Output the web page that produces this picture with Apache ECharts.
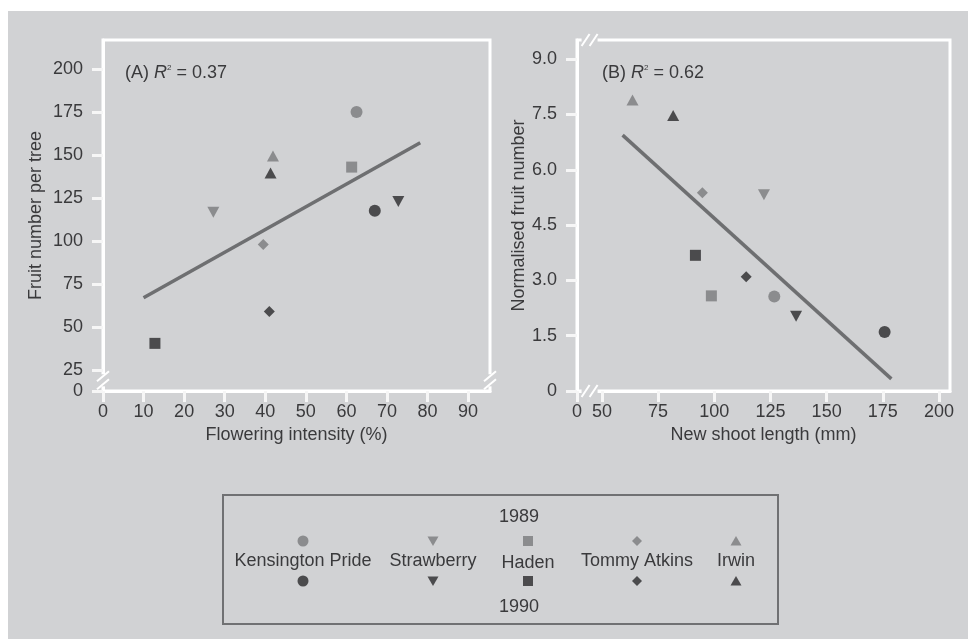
<!DOCTYPE html>
<html><head><meta charset="utf-8">
<script src="https://cdn.jsdelivr.net/npm/echarts@6/dist/echarts.min.js"></script>
<style>
html,body{margin:0;padding:0;background:#fff;}
#bg{position:absolute;left:8px;top:11px;width:960px;height:628px;background:#d1d2d4;}
#chart{position:absolute;left:0;top:0;width:968px;height:639px;}
</style></head><body>
<div id="bg"></div><div id="chart"></div>
<script>
// ---------- data ----------
const cultivars = ['Kensington Pride', 'Strawberry', 'Haden', 'Tommy Atkins', 'Irwin'];
const years = ['1989', '1990'];
const flowering1989 = [62.5, 27.2, 61.3, 39.5, 41.9];
const fruitPerTree1989 = [175, 116.7, 143, 98, 149.5];
const flowering1990 = [67, 72.8, 12.8, 41, 41.3];
const fruitPerTree1990 = [117.6, 123, 40.5, 59, 139.5];
const shoot1989 = [126.7, 122.1, 98.7, 94.7, 63.6];
const normFruit1989 = [2.56, 5.32, 2.58, 5.38, 7.89];
const shoot1990 = [175.8, 136.4, 91.6, 114.2, 81.7];
const normFruit1990 = [1.6, 2.03, 3.68, 3.1, 7.47];
const fitAx = [10, 78.2];
const fitAy = [67, 157.2];
const fitBx = [59.2, 178.8];
const fitBy = [6.94, 0.33];
const xTicksA = [0, 10, 20, 30, 40, 50, 60, 70, 80, 90];
const yTicksA = [25, 50, 75, 100, 125, 150, 175, 200];
const xTicksB = [50, 75, 100, 125, 150, 175, 200];
const yTicksB = [0, 1.5, 3, 4.5, 6, 7.5, 9];
const r2A = '0.37';
const r2B = '0.62';

const FONT = '"Liberation Sans", Arial, Helvetica, sans-serif';
const TXT = '#3a3a3c';
const BG = '#d1d2d4';
const LIGHT = '#8b8c8e';
const DARK = '#4b4b4d';
const LINE = '#6e6f71';
const AXISCOL = '#ffffff';
const TICKCOL = '#f6f6f6';
const yMinA = 12.8, yMaxA = 216.9, xMaxA = 95.4;
const xMinB = 38.9, xMaxB = 204.9, yMaxB = 9.52;
const symbols = ['circle', 'triangle', 'rect', 'diamond', 'triangle'];
const rotations = [0, 180, 0, 0, 0];
const sizes = [12, [12, 11], 11, [11, 11], [12, 11]];
const near = (a, b) => Math.abs(a - b) < 1e-6;

const xValsA = xTicksA;
const yValsA = [yMinA].concat(yTicksA);
const xValsB = [xMinB].concat(xTicksB);
const yValsB = yTicksB;

function makeAxis(gridIndex, min, max, name, nameGap, tickVals, fmt, margin) {
  return {
    type: 'value', gridIndex: gridIndex, min: min, max: max,
    axisLine: {show: true, onZero: false, lineStyle: {color: AXISCOL, width: 3}},
    axisTick: {show: true, length: 11, customValues: tickVals, lineStyle: {color: TICKCOL, width: 3}},
    axisLabel: {customValues: tickVals, formatter: fmt, margin: margin, fontSize: 18, fontFamily: FONT, color: TXT},
    splitLine: {show: false},
    name: name, nameLocation: 'middle', nameGap: nameGap,
    nameTextStyle: {fontSize: 18, fontFamily: FONT, color: TXT}
  };
}

const series = [];
series.push({type: 'line', xAxisIndex: 0, yAxisIndex: 0, data: fitAx.map((x, i) => [x, fitAy[i]]),
  showSymbol: false, lineStyle: {color: LINE, width: 3.5}, z: 1, silent: true});
series.push({type: 'line', xAxisIndex: 1, yAxisIndex: 1, data: fitBx.map((x, i) => [x, fitBy[i]]),
  showSymbol: false, lineStyle: {color: LINE, width: 3.5}, z: 1, silent: true});
const sets = [
  {g: 0, xs: flowering1989, ys: fruitPerTree1989, c: LIGHT},
  {g: 0, xs: flowering1990, ys: fruitPerTree1990, c: DARK},
  {g: 1, xs: shoot1989, ys: normFruit1989, c: LIGHT},
  {g: 1, xs: shoot1990, ys: normFruit1990, c: DARK}
];
sets.forEach(s => {
  cultivars.forEach((name, i) => {
    series.push({
      type: 'scatter', name: name, xAxisIndex: s.g, yAxisIndex: s.g,
      data: [[s.xs[i], s.ys[i]]],
      symbol: symbols[i], symbolRotate: rotations[i], symbolSize: sizes[i],
      itemStyle: {color: s.c, opacity: 1}, z: 3
    });
  });
});

function r2Title(label, val, left) {
  return {
    left: left, top: 59,
    text: '{n|(' + label + ') }{i|R}{s|2}{n| = ' + val + '}',
    textStyle: {fontWeight: 'normal', rich: {
      n: {fontSize: 18, fontFamily: FONT, color: TXT, fontWeight: 'normal', lineHeight: 18},
      i: {fontSize: 18, fontFamily: FONT, color: TXT, fontWeight: 'normal', fontStyle: 'italic', lineHeight: 18},
      s: {fontSize: 8, fontFamily: FONT, color: TXT, fontWeight: 'normal', verticalAlign: 'top', lineHeight: 9}
    }}
  };
}

const chart = echarts.init(document.getElementById('chart'));
chart.setOption({
  animation: false,
  title: [r2Title('A', r2A, 120), r2Title('B', r2B, 597)],
  grid: [
    {left: 103, top: 40, width: 387, height: 351, show: true, borderColor: AXISCOL, borderWidth: 3},
    {left: 577, top: 40, width: 373, height: 351, show: true, borderColor: AXISCOL, borderWidth: 3}
  ],
  xAxis: [
    makeAxis(0, 0, xMaxA, 'Flowering intensity (%)', 32, xValsA, v => String(v), 12),
    makeAxis(1, xMinB, xMaxB, 'New shoot length (mm)', 32, xValsB, v => near(v, xMinB) ? '0' : String(v), 12)
  ],
  yAxis: [
    makeAxis(0, yMinA, yMaxA, 'Fruit number per tree', 58, yValsA, v => near(v, yMinA) ? '0' : String(v), 20),
    makeAxis(1, 0, yMaxB, 'Normalised fruit number', 49, yValsB, v => near(v, 0) ? '0' : v.toFixed(1), 20)
  ],
  series: series
});

const gfx = [];
// ---------- axis break marks ----------
function breakMark(p, vertical) {
  const x = p[0], y = p[1];
  const els = [];
  if (vertical) {
    els.push({type: 'rect', shape: {x: x - 4, y: y - 6, width: 8, height: 12}, style: {fill: BG}});
    [-4, 4].forEach(d => els.push({type: 'line', shape: {x1: x - 6, y1: y + d + 5, x2: x + 6, y2: y + d - 5},
      style: {stroke: AXISCOL, lineWidth: 2}}));
  } else {
    els.push({type: 'rect', shape: {x: x - 8, y: y - 4, width: 16, height: 8}, style: {fill: BG}});
    [-4, 4].forEach(d => els.push({type: 'line', shape: {x1: x + d - 4, y1: y + 6, x2: x + d + 4, y2: y - 6},
      style: {stroke: AXISCOL, lineWidth: 2}}));
  }
  return els;
}
gfx.push(...breakMark(chart.convertToPixel({xAxisIndex: 0, yAxisIndex: 0}, [0, 19]), true));
gfx.push(...breakMark(chart.convertToPixel({xAxisIndex: 0, yAxisIndex: 0}, [xMaxA, 19]), true));
gfx.push(...breakMark(chart.convertToPixel({xAxisIndex: 1, yAxisIndex: 1}, [44.5, 0]), false));
gfx.push(...breakMark(chart.convertToPixel({xAxisIndex: 1, yAxisIndex: 1}, [44.5, yMaxB]), false));

// ---------- legend ----------
const legendCols = [303, 433, 528, 637, 736];
const legRowTop = 541, legRowText = 561, legRowBot = 581;
function legendMarker(i, cx, cy, color) {
  const st = {fill: color};
  if (i === 0) return {type: 'circle', shape: {cx: cx, cy: cy, r: 5.5}, style: st};
  if (i === 2) return {type: 'rect', shape: {x: cx - 5, y: cy - 5, width: 10, height: 10}, style: st};
  if (i === 3) return {type: 'polygon', shape: {points: [[cx, cy - 5], [cx + 5, cy], [cx, cy + 5], [cx - 5, cy]]}, style: st};
  if (i === 1) return {type: 'polygon', shape: {points: [[cx - 5.5, cy - 4.5], [cx + 5.5, cy - 4.5], [cx, cy + 5]]}, style: st};
  return {type: 'polygon', shape: {points: [[cx, cy - 5], [cx + 5.5, cy + 4.5], [cx - 5.5, cy + 4.5]]}, style: st};
}
function txt(t, x, y) {
  return {type: 'text', style: {text: t, x: x, y: y, font: '18px ' + FONT, fill: TXT,
    align: 'center', verticalAlign: 'middle', textAlign: 'center', textVerticalAlign: 'middle'}};
}
gfx.push({type: 'rect', shape: {x: 223, y: 495, width: 555, height: 129}, style: {fill: 'none', stroke: '#707173', lineWidth: 2}});
gfx.push(txt(years[0], 519, 517));
gfx.push(txt(years[1], 519, 607));
cultivars.forEach((name, i) => {
  gfx.push(legendMarker(i, legendCols[i], legRowTop, LIGHT));
  gfx.push(txt(name, legendCols[i], legRowText + (i === 2 ? 2 : 0)));
  gfx.push(legendMarker(i, legendCols[i], legRowBot, DARK));
});
chart.setOption({graphic: {elements: gfx.map(e => Object.assign({z: 100}, e))}});
</script>
</body></html>
